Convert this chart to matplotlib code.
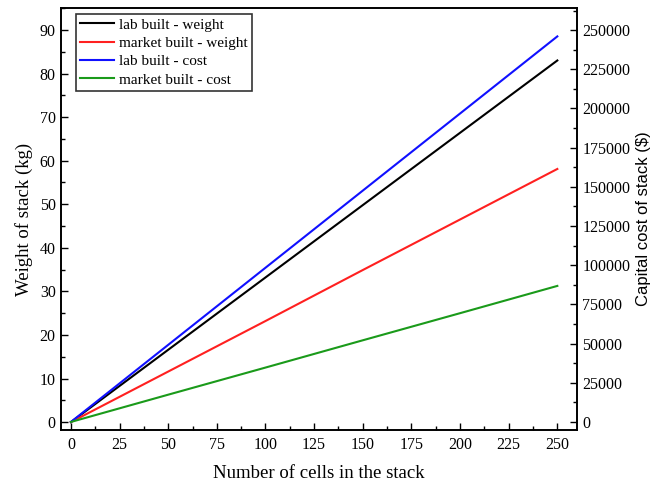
import matplotlib.pyplot as plt
from matplotlib.ticker import MultipleLocator

plt.rcParams['font.family'] = ['Liberation Serif', 'DejaVu Serif']

# data
cells = [0, 50, 100, 150, 200, 250]
lab_weight = [0, 16.6, 33.2, 49.8, 66.4, 83.0]
market_weight = [0, 11.6, 23.2, 34.9, 46.5, 58.1]
lab_cost = [0, 49200, 98400, 147600, 196800, 246000]
market_cost = [0, 17400, 34700, 52100, 69400, 86800]

fig = plt.figure(figsize=(6.51, 4.82), dpi=100)
ax1 = fig.add_axes([0.094, 0.108, 0.792, 0.875])
ax2 = ax1.twinx()

l1, = ax1.plot(cells, lab_weight, color='black', lw=1.5, label='lab built - weight')
l2, = ax1.plot(cells, market_weight, color='#ff2020', lw=1.5, label='market built - weight')
l3, = ax2.plot(cells, lab_cost, color='#1010ff', lw=1.5, label='lab built - cost')
l4, = ax2.plot(cells, market_cost, color='#1a9a1a', lw=1.5, label='market built - cost')

ax1.set_xlim(-5, 260)
ax1.set_ylim(-1.8, 95)
ax2.set_ylim(-5100, 264000)

ax1.xaxis.set_major_locator(MultipleLocator(25))
ax1.xaxis.set_minor_locator(MultipleLocator(12.5))
ax1.yaxis.set_major_locator(MultipleLocator(10))
ax1.yaxis.set_minor_locator(MultipleLocator(5))
ax2.yaxis.set_major_locator(MultipleLocator(25000))
ax2.yaxis.set_minor_locator(MultipleLocator(12500))

for ax in (ax1, ax2):
    ax.tick_params(which='both', direction='in', labelsize=11.5, width=1, pad=4)
    ax.tick_params(which='major', length=5)
    ax.tick_params(which='minor', length=3)
    for s in ax.spines.values():
        s.set_linewidth(1.2)

ax1.tick_params(axis='x', which='both', top=False, pad=5)

ax1.set_xlabel('Number of cells in the stack', fontsize=13.5, labelpad=9)
ax1.set_ylabel('Weight of stack (kg)', fontsize=13.5, labelpad=5)
ax2.set_ylabel('Capital cost of stack ($)', fontsize=12, labelpad=4,
               family=['Liberation Sans', 'DejaVu Sans'])

leg = ax1.legend(handles=[l1, l2, l3, l4], loc='upper left', fontsize=11,
                 frameon=True, fancybox=False, edgecolor='black',
                 borderpad=0.3, labelspacing=0.3, handlelength=2.2,
                 handletextpad=0.3, borderaxespad=0.35,
                 bbox_to_anchor=(0.018, 1.0))
leg.get_frame().set_linewidth(1.2)

fig.savefig('out.png', dpi=100, facecolor='white')
